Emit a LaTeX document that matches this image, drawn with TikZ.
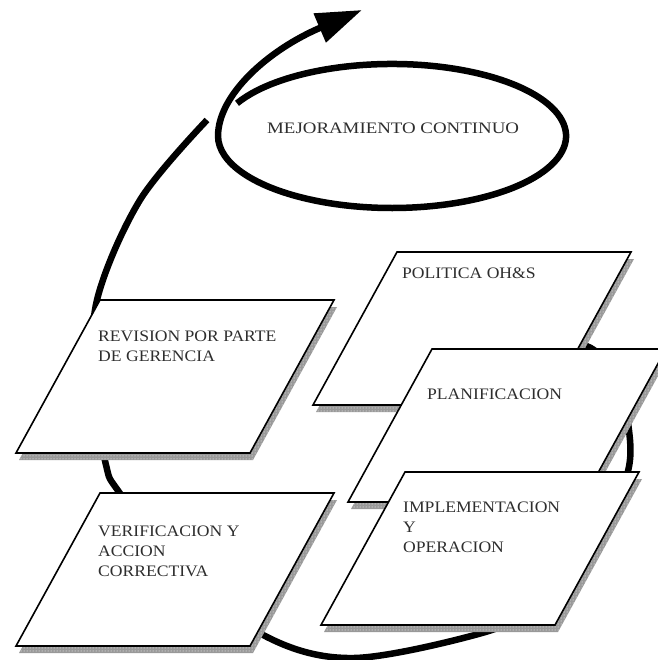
\documentclass[tikz,border=0pt]{standalone}
\usepackage{fontspec}
\usetikzlibrary{calc,arrows.meta,patterns}
\newfontfamily\platefont[FakeStretch=1.1]{Liberation Serif}
\newfontfamily\ringfont[FakeStretch=1.18]{Liberation Serif}
\definecolor{inkgray}{HTML}{2E2E2E}

\tikzset{
  plate/.style={draw=black, line width=1.6pt, fill=white, line join=miter},
  plateshadow/.style={fill=black!40},
  plategrain/.style={pattern=dots, pattern color=white},
  platetext/.style={anchor=north west, inner sep=0pt, align=left, text=inkgray,
    font={\platefont\fontsize{16}{20}\selectfont}},
  ringtext/.style={anchor=base west, inner sep=0pt, text=inkgray,
    font={\ringfont\fontsize{16}{20}\selectfont}},
  cycle/.style={line width=6.5pt, line cap=butt, draw=black},
}

% a slanted plate with its grainy drop shadow: name, x and y of the top-left corner
\newcommand{\slantplate}[3]{%
  \coordinate (#1-nw) at (#2,#3);
  \coordinate (#1-ne) at ($(#1-nw)+(234,0)$);
  \coordinate (#1-se) at ($(#1-nw)+(150,153)$);
  \coordinate (#1-sw) at ($(#1-nw)+(-84,153)$);
  \path[plateshadow] ($(#1-nw)+(3,7)$) -- ($(#1-ne)+(3,7)$) --
    ($(#1-se)+(3,7)$) -- ($(#1-sw)+(3,7)$) -- cycle;
  \path[plategrain] ($(#1-nw)+(3,7)$) -- ($(#1-ne)+(3,7)$) --
    ($(#1-se)+(3,7)$) -- ($(#1-sw)+(3,7)$) -- cycle;
  \draw[plate] (#1-nw) -- (#1-ne) -- (#1-se) -- (#1-sw) -- cycle;
}

\begin{document}
\begin{tikzpicture}[x=1pt, y=-1pt]
\useasboundingbox (0,0) rectangle (657,660);

% the large cycle running behind the plates
\coordinate (c0) at (515,338);
\coordinate (c1) at (560,340);
\coordinate (c2) at (594,350);
\coordinate (c3) at (619,382);
\coordinate (c4) at (630,440);
\coordinate (c5) at (627,475);
\coordinate (c6) at (610,512);
\coordinate (c7) at (580,566);
\coordinate (c8) at (538,606);
\coordinate (c9) at (482,633);
\coordinate (c10) at (354,658);
\coordinate (c11) at (267,637);
\coordinate (c12) at (180,570);
\coordinate (c13) at (119,492);
\coordinate (c14) at (106,465);
\coordinate (c15) at (94,390);
\coordinate (c16) at (97,300);
\coordinate (c17) at (140,200);
\coordinate (c18) at (207,120);
\draw[cycle] plot[smooth, tension=0.55] coordinates
  {(c0) (c1) (c2) (c3) (c4) (c5) (c6) (c7) (c8) (c9) (c10) (c11) (c12)
   (c13) (c14) (c15) (c16) (c17) (c18)};

% continuous improvement ring spiralling out into the arrow
\coordinate (ringstart) at (237,103.3);
\coordinate (arrowtip) at (362,10);
\draw[cycle, -{Triangle[length=46pt,width=30pt]}]
  (ringstart) arc[start angle=207, end angle=540, x radius=174, y radius=72]
  .. controls (218,95) and (268,50) .. (arrowtip);
\node[ringtext] (mejora) at (267,134) {MEJORAMIENTO CONTINUO};

% the plates
\slantplate{pol}{397}{252}
\node[platetext] (politica) at (402,268) {POLITICA OH\&S};

\slantplate{plan}{432}{349}
\node[platetext] (planif) at (427,389) {PLANIFICACION};

\slantplate{impl}{405}{472}
\node[platetext] (implem) at (403,502) {IMPLEMENTACION\\Y\\OPERACION};

\slantplate{rev}{100}{300}
\node[platetext] (revision) at (98,331) {REVISION POR PARTE\\DE GERENCIA};

\slantplate{ver}{100}{493}
\node[platetext] (verif) at (98,526) {VERIFICACION Y\\ACCION\\CORRECTIVA};

\end{tikzpicture}
\end{document}
